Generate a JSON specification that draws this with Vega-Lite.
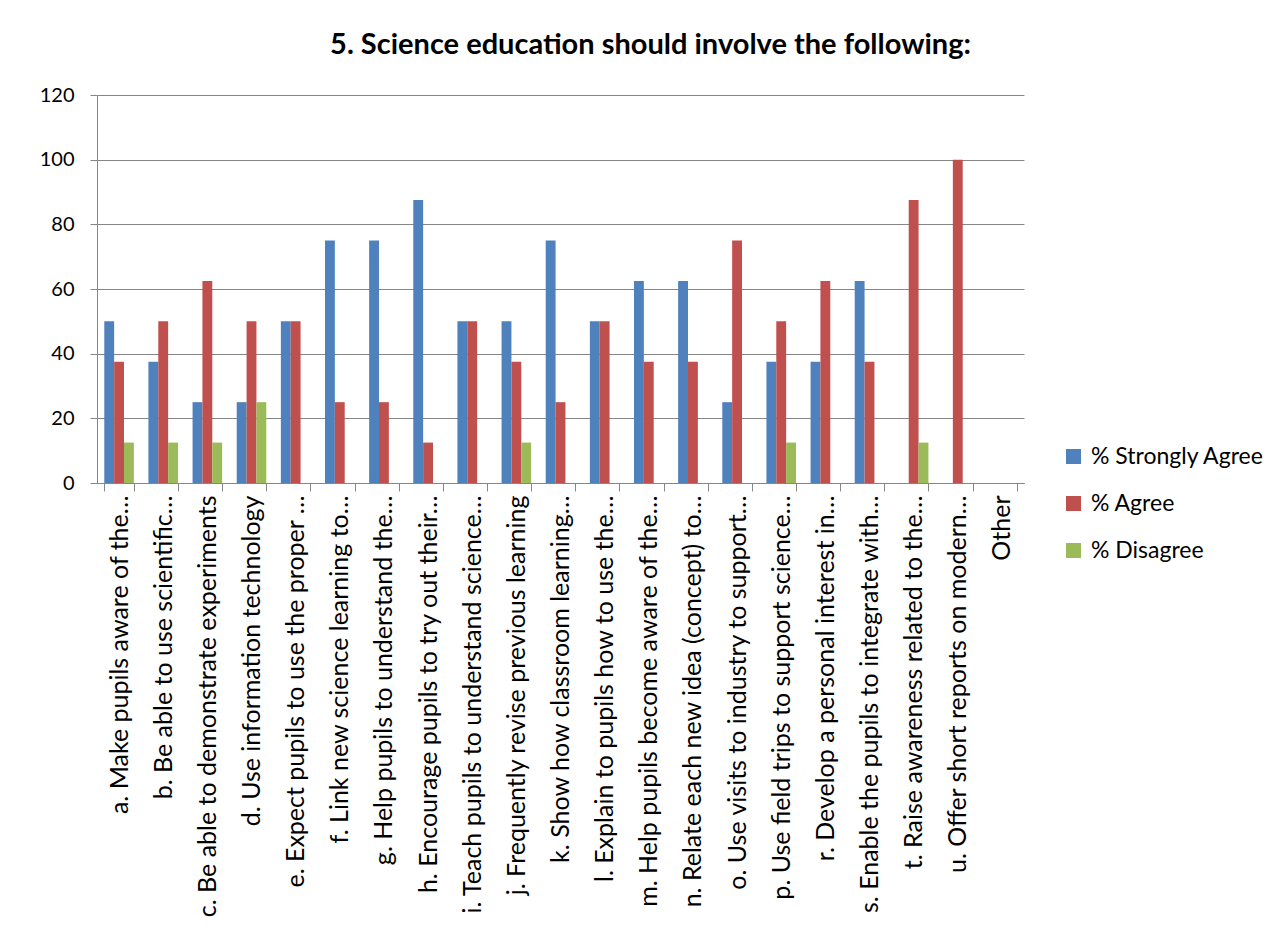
{
  "$schema": "https://vega.github.io/schema/vega-lite/v6.json",
  "autosize": {"type": "none"},
  "width": 927,
  "height": 388,
  "padding": {"left": 97, "top": 95, "right": 263, "bottom": 454},
  "background": "white",
  "title": {
    "text": "5.  Science education should involve the following:",
    "font": "Lato",
    "fontSize": 29,
    "fontWeight": "bold",
    "color": "#000000",
    "anchor": "middle",
    "frame": "group",
    "dx": 90,
    "baseline": "alphabetic",
    "offset": 2
  },
  "data": {
    "values": [
      {"category": "a. Make pupils aware of the…", "series": "% Strongly Agree", "value": 50},
      {"category": "a. Make pupils aware of the…", "series": "% Agree", "value": 37.5},
      {"category": "a. Make pupils aware of the…", "series": "% Disagree", "value": 12.5},
      {"category": "b. Be able to use scientific…", "series": "% Strongly Agree", "value": 37.5},
      {"category": "b. Be able to use scientific…", "series": "% Agree", "value": 50},
      {"category": "b. Be able to use scientific…", "series": "% Disagree", "value": 12.5},
      {"category": "c. Be able to demonstrate experiments", "series": "% Strongly Agree", "value": 25},
      {"category": "c. Be able to demonstrate experiments", "series": "% Agree", "value": 62.5},
      {"category": "c. Be able to demonstrate experiments", "series": "% Disagree", "value": 12.5},
      {"category": "d. Use information technology", "series": "% Strongly Agree", "value": 25},
      {"category": "d. Use information technology", "series": "% Agree", "value": 50},
      {"category": "d. Use information technology", "series": "% Disagree", "value": 25},
      {"category": "e. Expect pupils to use the proper …", "series": "% Strongly Agree", "value": 50},
      {"category": "e. Expect pupils to use the proper …", "series": "% Agree", "value": 50},
      {"category": "e. Expect pupils to use the proper …", "series": "% Disagree", "value": 0},
      {"category": "f. Link new science learning to…", "series": "% Strongly Agree", "value": 75},
      {"category": "f. Link new science learning to…", "series": "% Agree", "value": 25},
      {"category": "f. Link new science learning to…", "series": "% Disagree", "value": 0},
      {"category": "g. Help pupils to understand the…", "series": "% Strongly Agree", "value": 75},
      {"category": "g. Help pupils to understand the…", "series": "% Agree", "value": 25},
      {"category": "g. Help pupils to understand the…", "series": "% Disagree", "value": 0},
      {"category": "h. Encourage pupils to try out their…", "series": "% Strongly Agree", "value": 87.5},
      {"category": "h. Encourage pupils to try out their…", "series": "% Agree", "value": 12.5},
      {"category": "h. Encourage pupils to try out their…", "series": "% Disagree", "value": 0},
      {"category": "i. Teach pupils to understand science…", "series": "% Strongly Agree", "value": 50},
      {"category": "i. Teach pupils to understand science…", "series": "% Agree", "value": 50},
      {"category": "i. Teach pupils to understand science…", "series": "% Disagree", "value": 0},
      {"category": "j. Frequently revise previous learning", "series": "% Strongly Agree", "value": 50},
      {"category": "j. Frequently revise previous learning", "series": "% Agree", "value": 37.5},
      {"category": "j. Frequently revise previous learning", "series": "% Disagree", "value": 12.5},
      {"category": "k. Show how classroom learning…", "series": "% Strongly Agree", "value": 75},
      {"category": "k. Show how classroom learning…", "series": "% Agree", "value": 25},
      {"category": "k. Show how classroom learning…", "series": "% Disagree", "value": 0},
      {"category": "l. Explain to pupils  how to use the…", "series": "% Strongly Agree", "value": 50},
      {"category": "l. Explain to pupils  how to use the…", "series": "% Agree", "value": 50},
      {"category": "l. Explain to pupils  how to use the…", "series": "% Disagree", "value": 0},
      {"category": "m. Help pupils become aware of the…", "series": "% Strongly Agree", "value": 62.5},
      {"category": "m. Help pupils become aware of the…", "series": "% Agree", "value": 37.5},
      {"category": "m. Help pupils become aware of the…", "series": "% Disagree", "value": 0},
      {"category": "n. Relate each new idea (concept) to…", "series": "% Strongly Agree", "value": 62.5},
      {"category": "n. Relate each new idea (concept) to…", "series": "% Agree", "value": 37.5},
      {"category": "n. Relate each new idea (concept) to…", "series": "% Disagree", "value": 0},
      {"category": "o. Use visits to industry to support…", "series": "% Strongly Agree", "value": 25},
      {"category": "o. Use visits to industry to support…", "series": "% Agree", "value": 75},
      {"category": "o. Use visits to industry to support…", "series": "% Disagree", "value": 0},
      {"category": "p. Use field trips to support science…", "series": "% Strongly Agree", "value": 37.5},
      {"category": "p. Use field trips to support science…", "series": "% Agree", "value": 50},
      {"category": "p. Use field trips to support science…", "series": "% Disagree", "value": 12.5},
      {"category": "r. Develop a personal interest in…", "series": "% Strongly Agree", "value": 37.5},
      {"category": "r. Develop a personal interest in…", "series": "% Agree", "value": 62.5},
      {"category": "r. Develop a personal interest in…", "series": "% Disagree", "value": 0},
      {"category": "s. Enable the pupils to integrate with…", "series": "% Strongly Agree", "value": 62.5},
      {"category": "s. Enable the pupils to integrate with…", "series": "% Agree", "value": 37.5},
      {"category": "s. Enable the pupils to integrate with…", "series": "% Disagree", "value": 0},
      {"category": "t. Raise awareness related to the…", "series": "% Strongly Agree", "value": 0},
      {"category": "t. Raise awareness related to the…", "series": "% Agree", "value": 87.5},
      {"category": "t. Raise awareness related to the…", "series": "% Disagree", "value": 12.5},
      {"category": "u. Offer short reports on modern…", "series": "% Strongly Agree", "value": 0},
      {"category": "u. Offer short reports on modern…", "series": "% Agree", "value": 100},
      {"category": "u. Offer short reports on modern…", "series": "% Disagree", "value": 0},
      {"category": "Other", "series": "% Strongly Agree", "value": 0},
      {"category": "Other", "series": "% Agree", "value": 0},
      {"category": "Other", "series": "% Disagree", "value": 0}
    ]
  },
  "mark": {"type": "bar", "strokeWidth": 0},
  "encoding": {
    "x": {
      "field": "category",
      "type": "nominal",
      "sort": null,
      "title": null,
      "scale": {"paddingInner": 0.33, "paddingOuter": 0.165},
      "axis": {
        "labelAngle": -90,
        "labelFont": "Lato",
        "labelFontSize": 25,
        "labelColor": "#000000",
        "labelLimit": 0,
        "labelPadding": 4,
        "tickBand": "extent",
        "tickSize": 8,
        "tickColor": "#868686",
        "domainColor": "#868686",
        "grid": false
      }
    },
    "xOffset": {
      "field": "series",
      "type": "nominal",
      "sort": ["% Strongly Agree", "% Agree", "% Disagree"],
      "scale": {"paddingInner": 0, "paddingOuter": 0}
    },
    "y": {
      "field": "value",
      "type": "quantitative",
      "title": null,
      "scale": {"domain": [0, 120], "nice": false},
      "axis": {
        "values": [0, 20, 40, 60, 80, 100, 120],
        "labelFont": "Lato",
        "labelFontSize": 20,
        "labelColor": "#000000",
        "labelPadding": 16,
        "tickSize": 7,
        "tickColor": "#868686",
        "domainColor": "#868686",
        "grid": true,
        "gridColor": "#868686",
        "gridOpacity": 1
      }
    },
    "color": {
      "field": "series",
      "type": "nominal",
      "title": null,
      "scale": {
        "domain": ["% Strongly Agree", "% Agree", "% Disagree"],
        "range": ["#4F81BD", "#C0504D", "#9BBB59"]
      },
      "legend": {
        "orient": "none",
        "legendX": 965,
        "legendY": 350,
        "symbolType": "square",
        "symbolSize": 225,
        "symbolStrokeWidth": 0,
        "symbolOpacity": 1,
        "labelFont": "Lato",
        "labelFontSize": 23,
        "labelColor": "#000000",
        "labelLimit": 0,
        "rowPadding": 23,
        "labelOffset": 6
      }
    }
  },
  "config": {
    "view": {"stroke": null}
  }
}
